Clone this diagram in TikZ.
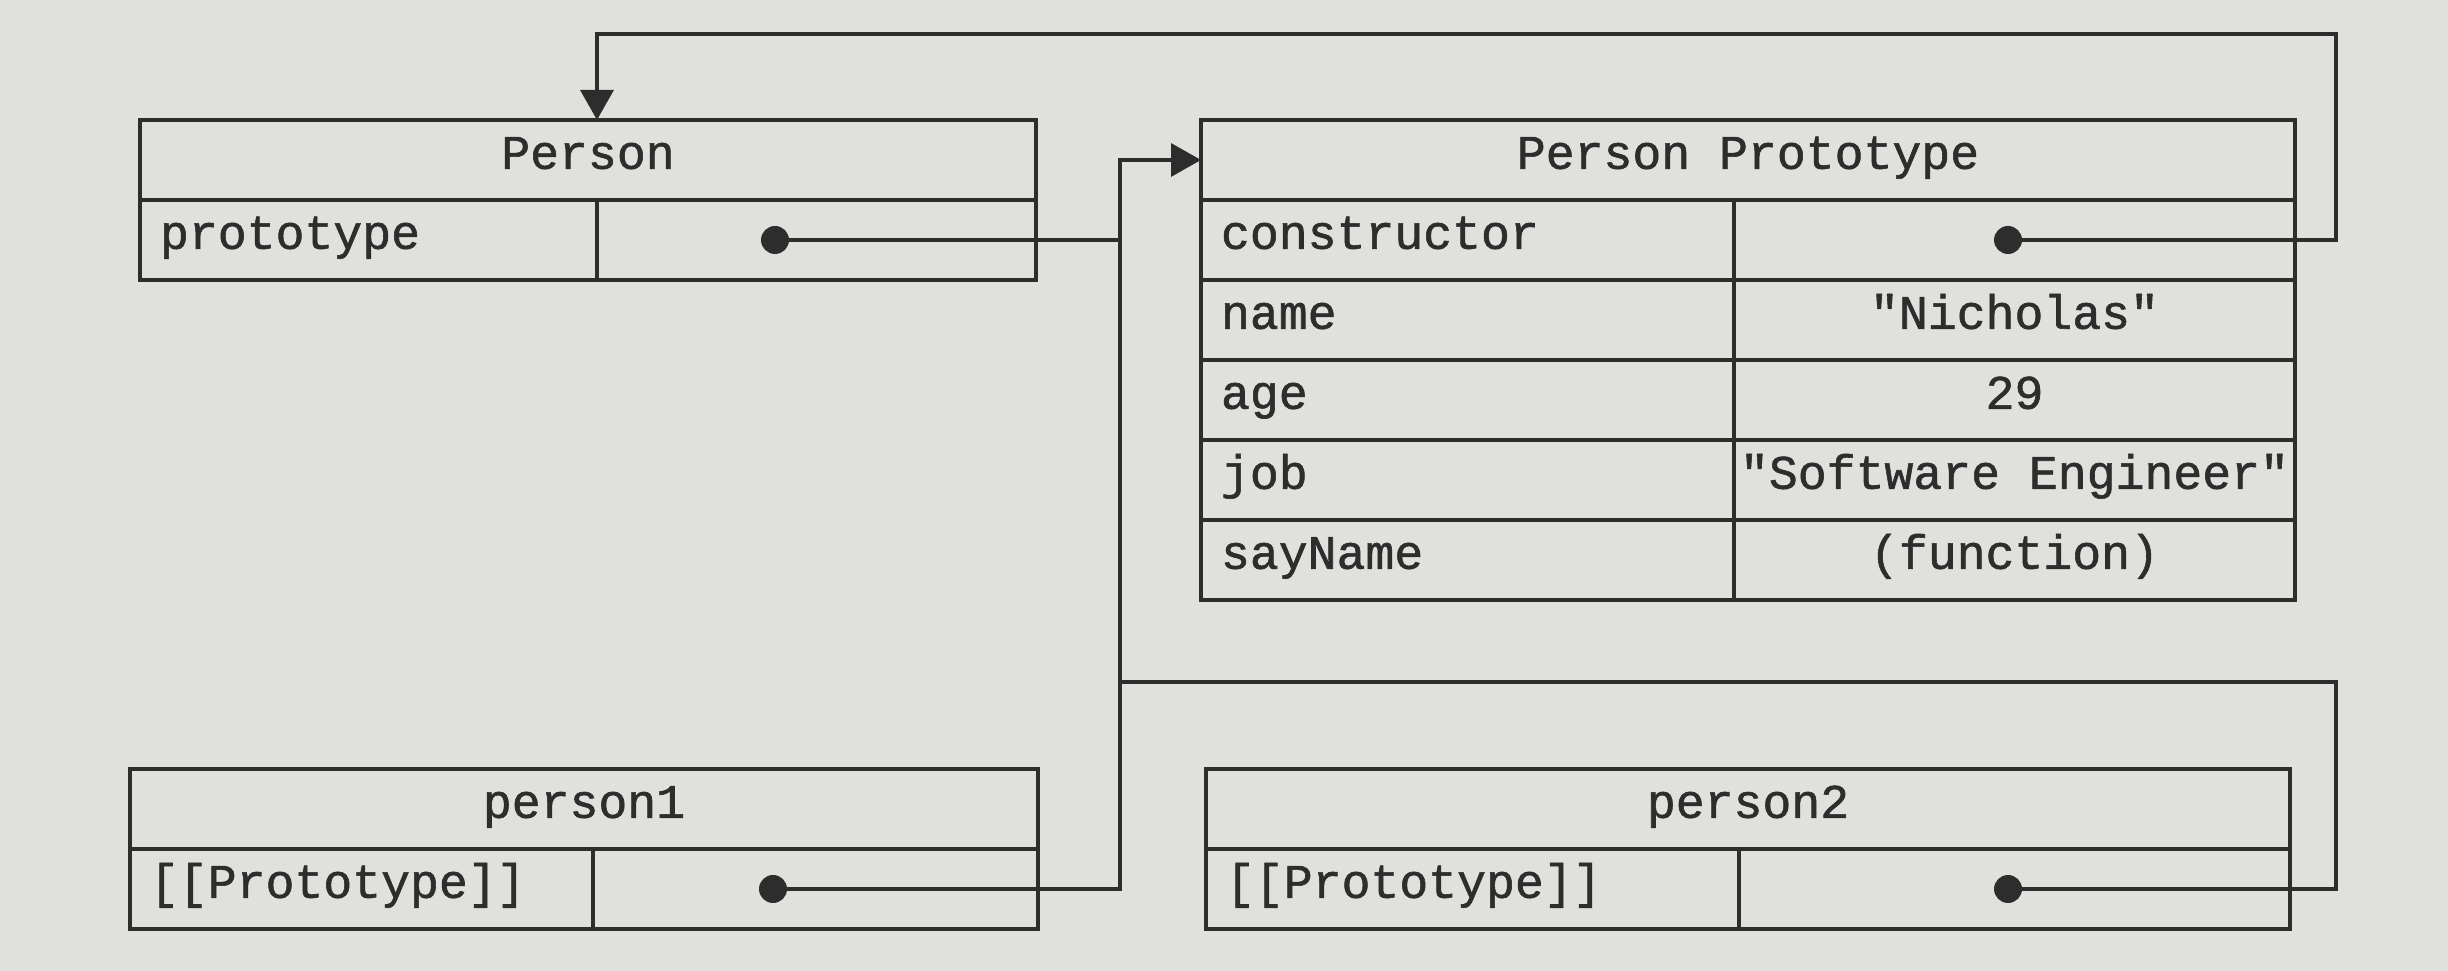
\documentclass[tikz,border=0pt]{standalone}
\usepackage{fontspec}
\usetikzlibrary{arrows.meta}
\newfontfamily\objfont[FakeBold=1.2]{Liberation Mono}
\definecolor{paper}{RGB}{224,224,221}
\definecolor{ink}{RGB}{45,45,45}

\begin{document}
\begin{tikzpicture}[
		cell/.style={draw=ink, line width=1.2pt, outer sep=0pt, inner sep=0pt, minimum height=0.8cm, text height=0.72em, text depth=0.22em, text=ink, font=\objfont\fontsize{13.7}{16}\selectfont},
		keycell/.style={cell, text width=#1, inner xsep=0.2cm, align=left},
		valcell/.style={cell, minimum width=#1},
		dot/.style={circle, fill=ink, inner sep=0pt, minimum size=0.28cm},
		conn/.style={draw=ink, line width=1pt},
		ptr/.style={conn, -{Triangle[length=0.3cm,width=0.33cm]}}]
		\fill[paper] (0,0) rectangle (24.48,-9.71);
		
		% constructor function
		\node[cell, minimum width=8.96cm] (person) at (5.88,-1.60) {Person};
		\node[keycell=4.17cm, anchor=north west] (ptkey) at (person.south west) {prototype};
		\node[valcell=4.39cm, anchor=west] (ptval) at (ptkey.east) {};
		\node[dot] (ptdot) at (7.75,-2.40) {};
		
		% prototype object
		\node[cell, minimum width=10.94cm] (proto) at (17.48,-1.60) {Person Prototype};
		\node[keycell=4.93cm, anchor=north west] (ctorkey) at (proto.south west) {constructor};
		\node[valcell=5.61cm, anchor=west] (ctorval) at (ctorkey.east) {};
		\node[keycell=4.93cm, anchor=north west] (namekey) at (ctorkey.south west) {name};
		\node[valcell=5.61cm, anchor=west] (nameval) at (namekey.east) {"Nicholas"};
		\node[keycell=4.93cm, anchor=north west] (agekey) at (namekey.south west) {age};
		\node[valcell=5.61cm, anchor=west] (ageval) at (agekey.east) {29};
		\node[keycell=4.93cm, anchor=north west] (jobkey) at (agekey.south west) {job};
		\node[valcell=5.61cm, anchor=west] (jobval) at (jobkey.east) {"Software Engineer"};
		\node[keycell=4.93cm, anchor=north west] (saykey) at (jobkey.south west) {sayName};
		\node[valcell=5.61cm, anchor=west] (sayval) at (saykey.east) {(function)};
		\node[dot] (ctordot) at (20.08,-2.40) {};
		
		% instances
		\node[cell, minimum width=9.08cm] (p1) at (5.84,-8.09) {person1};
		\node[keycell=4.23cm, anchor=north west] (p1key) at (p1.south west) {{[[Prototype]]}};
		\node[valcell=4.45cm, anchor=west] (p1val) at (p1key.east) {};
		\node[dot] (p1dot) at (7.73,-8.89) {};
		
		\node[cell, minimum width=10.84cm] (p2) at (17.48,-8.09) {person2};
		\node[keycell=4.93cm, anchor=north west] (p2key) at (p2.south west) {{[[Prototype]]}};
		\node[valcell=5.51cm, anchor=west] (p2val) at (p2key.east) {};
		\node[dot] (p2dot) at (20.08,-8.89) {};
		
		% pointers
		\coordinate (topR) at (23.36,-0.34);
		\coordinate (lowR) at (23.36,-6.82);
		\coordinate (join) at (11.20,-6.82);
		\draw[ptr] (ctordot.center) -| (topR) -| (person.north -| ptkey.east);
		\draw[ptr] (p1dot.center) -| (join) |- (proto.west);
		\draw[conn] (p2dot.center) -| (lowR) -- (join);
		\draw[conn] (ptdot.center) -- (ptdot.center -| join);
		
	\end{tikzpicture}
\end{document}
